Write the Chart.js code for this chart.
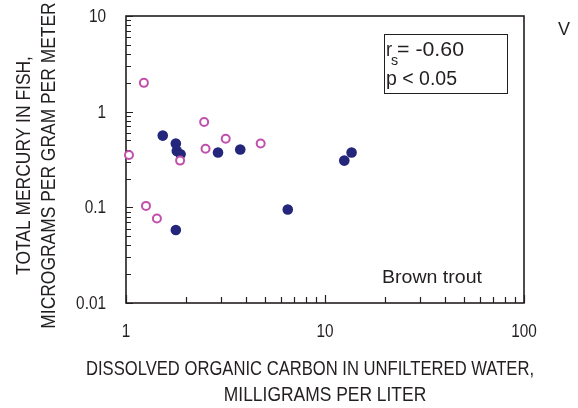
<!DOCTYPE html>
<html>
<head>
<meta charset="utf-8">
<script src="https://cdn.jsdelivr.net/npm/chart.js@4"></script>
<style>
  html, body { margin: 0; padding: 0; background: #fff; }
</style>
</head>
<body>
<canvas id="mercuryChart" width="578" height="408"></canvas>
<script>
// dissolved organic carbon (mg/L) and total mercury in fish, brown trout
const openDoc = [1.23, 1.035, 2.47, 2.51, 3.17, 4.75, 1.87, 1.26, 1.43];
const openHg = [2.0, 0.353, 0.78, 0.41, 0.52, 0.464, 0.308, 0.1035, 0.0764];
const filledDoc = [1.53, 1.78, 1.80, 1.88, 2.90, 3.75, 6.5, 1.78, 12.5, 13.6];
const filledHg = [0.562, 0.464, 0.389, 0.359, 0.374, 0.402, 0.0948, 0.058, 0.308, 0.374];

const xTickValues = [1, 10, 100];
const xTickLabels = ['1', '10', '100'];
const yTickValues = [0.01, 0.1, 1, 10];
const yTickLabels = ['0.01', '0.1', '1', '10'];

const xTitle = ['DISSOLVED ORGANIC CARBON IN UNFILTERED WATER,', 'MILLIGRAMS PER LITER'];
const yTitle = ['TOTAL MERCURY IN FISH,', 'MICROGRAMS PER GRAM PER METER'];

const ink = '#231f20';
const face = "'Liberation Sans', Arial, sans-serif";

function toPoints(xs, ys) {
    return xs.map((v, i) => ({x: v, y: ys[i]}));
}

// condensed look: squeeze the regular face sideways
// width (optional) fits the text to that many pixels
function squeezed(ctx, text, x, y, size, align, baseline, rotate, sx, width) {
    ctx.save();
    ctx.font = size + 'px ' + face;
    let k = sx || 0.83;
    if (width) k = width / ctx.measureText(text).width;
    ctx.translate(x, y);
    if (rotate) ctx.rotate(-Math.PI / 2);
    ctx.scale(k, 1);
    ctx.textAlign = align;
    ctx.textBaseline = baseline;
    ctx.fillText(text, 0, 0);
    ctx.restore();
}

// box, inward tick marks, axis labels and the notes
const frame = {
    id: 'frame',
    beforeDatasetsDraw(chart) {
        const {ctx, chartArea: a, scales} = chart;
        ctx.save();
        ctx.strokeStyle = ink;
        ctx.lineWidth = 1.2;
        ctx.beginPath();
        for (let i = 0; i < yTickValues.length; i++) {
            const v = yTickValues[i];
            for (let k = 1; k <= 9; k++) {
                if (i === yTickValues.length - 1 && k > 1) break;
                const py = Math.round(scales.y.getPixelForValue(v * k)) + 0.5;
                ctx.moveTo(a.left, py);
                ctx.lineTo(a.left + (k === 1 ? 7 : 5), py);
            }
        }
        for (let i = 0; i < xTickValues.length; i++) {
            const v = xTickValues[i];
            for (let k = 1; k <= 9; k++) {
                if (i === xTickValues.length - 1 && k > 1) break;
                const px = Math.round(scales.x.getPixelForValue(v * k)) + 0.5;
                ctx.moveTo(px, a.bottom);
                ctx.lineTo(px, a.bottom - (k === 1 ? 8 : 6));
            }
        }
        ctx.stroke();
        ctx.lineWidth = 1.6;
        ctx.strokeRect(a.left, a.top, a.right - a.left, a.bottom - a.top);

        ctx.fillStyle = ink;
        yTickValues.forEach((v, i) => {
            squeezed(ctx, yTickLabels[i], a.left - 20, scales.y.getPixelForValue(v) + 1, 18.5, 'right', 'middle');
        });
        xTickValues.forEach((v, i) => {
            squeezed(ctx, xTickLabels[i], scales.x.getPixelForValue(v), a.bottom + 29, 18.5, 'center', 'middle');
        });
        squeezed(ctx, xTitle[0], a.left - 40, a.bottom + 72, 21, 'left', 'alphabetic', false, 0, 448);
        squeezed(ctx, xTitle[1], (a.left + a.right) / 2, a.bottom + 98, 21, 'center', 'alphabetic');
        const cy = (a.top + a.bottom) / 2 + 6;
        squeezed(ctx, yTitle[0], 30, cy, 21, 'center', 'alphabetic', true);
        squeezed(ctx, yTitle[1], 55, cy, 21, 'center', 'alphabetic', true);
        ctx.restore();
    },
    afterDraw(chart) {
        const {ctx, chartArea: a} = chart;
        ctx.save();
        ctx.fillStyle = ink;
        ctx.strokeStyle = ink;
        ctx.lineWidth = 1;
        const bx = a.right - 140, by = a.top + 18;
        ctx.strokeRect(bx + 0.5, by + 0.5, 123, 59);
        squeezed(ctx, 'r', bx + 2, by + 22, 19.5, 'left', 'alphabetic', false, 0.95);
        squeezed(ctx, 's', bx + 7, by + 31, 15, 'left', 'alphabetic', false, 0.95);
        squeezed(ctx, '= -0.60', bx + 13, by + 22, 19.5, 'left', 'alphabetic', false, 0, 67);
        squeezed(ctx, 'p < 0.05', bx + 2, by + 51, 19.5, 'left', 'alphabetic', false, 1);
        squeezed(ctx, 'Brown trout', a.right - 142, a.bottom - 20, 19, 'left', 'alphabetic', false, 0, 100);
        squeezed(ctx, 'V', a.right + 34, a.top + 19, 18, 'left', 'alphabetic', false, 1);
        ctx.restore();
    }
};

const ctx = document.getElementById('mercuryChart').getContext('2d');

const chart = new Chart(ctx, {
    type: 'scatter',
    data: {
        datasets: [
            {
                label: 'open',
                data: toPoints(openDoc, openHg),
                pointRadius: 4,
                pointBorderWidth: 2,
                pointBorderColor: '#c150ad',
                pointBackgroundColor: '#ffffff'
            },
            {
                label: 'filled',
                data: toPoints(filledDoc, filledHg),
                pointRadius: 5.3,
                pointBorderWidth: 0,
                pointBorderColor: '#23267a',
                pointBackgroundColor: '#23267a'
            }
        ]
    },
    options: {
        responsive: false,
        animation: false,
        clip: false,
        layout: {padding: {top: 16, right: 54, bottom: 1, left: 0}},
        plugins: {legend: {display: false}, tooltip: {enabled: false}},
        elements: {point: {hoverRadius: 5}},
        scales: {
            x: {
                type: 'logarithmic',
                min: 1, max: 100,
                grid: {display: false, drawTicks: false},
                border: {display: false},
                ticks: {display: false},
                afterFit: s => { s.height = 104; }
            },
            y: {
                type: 'logarithmic',
                min: 0.01, max: 10,
                grid: {display: false, drawTicks: false},
                border: {display: false},
                ticks: {display: false},
                afterFit: s => { s.width = 126; }
            }
        }
    },
    plugins: [frame]
});
</script>
</body>
</html>
